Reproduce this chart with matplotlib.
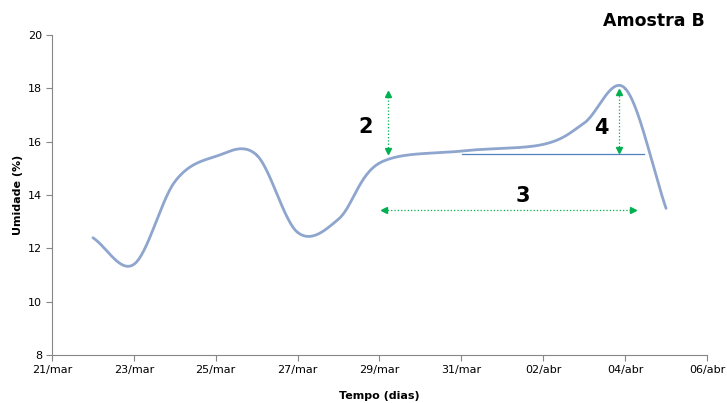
import matplotlib
matplotlib.use('Agg')
from matplotlib import pyplot as plt
import matplotlib.dates as mdates
import numpy as np
import pandas as pd

# dados
datas = ['2013-03-22', '2013-03-23', '2013-03-24', '2013-03-25', '2013-03-26',
         '2013-03-27', '2013-03-28', '2013-03-29', '2013-03-31', '2013-04-02',
         '2013-04-03', '2013-04-04', '2013-04-05']
umidade = [12.4, 11.4, 14.5, 15.45, 15.5, 12.6, 13.1, 15.2, 15.65, 15.9, 16.7, 18.0, 13.5]

tick_datas = ['2013-03-21', '2013-03-23', '2013-03-25', '2013-03-27', '2013-03-29',
              '2013-03-31', '2013-04-02', '2013-04-04', '2013-04-06']
tick_labels = ['21/mar', '23/mar', '25/mar', '27/mar', '29/mar', '31/mar', '02/abr', '04/abr', '06/abr']


def suaviza(x, y, n=30):
    # curva suavizada tipo Catmull-Rom (linha suave do Excel)
    x = np.asarray(x, float)
    y = np.asarray(y, float)
    px = np.concatenate([[2 * x[0] - x[1]], x, [2 * x[-1] - x[-2]]])
    py = np.concatenate([[2 * y[0] - y[1]], y, [2 * y[-1] - y[-2]]])
    xs, ys = [], []
    t = np.linspace(0, 1, n)
    for i in range(1, len(px) - 2):
        for p, out in ((px, xs), (py, ys)):
            p0, p1, p2, p3 = p[i - 1], p[i], p[i + 1], p[i + 2]
            out.extend(0.5 * ((2 * p1) + (-p0 + p2) * t +
                              (2 * p0 - 5 * p1 + 4 * p2 - p3) * t ** 2 +
                              (-p0 + 3 * p1 - 3 * p2 + p3) * t ** 3))
    return np.array(xs), np.array(ys)


x = mdates.date2num(pd.to_datetime(datas))
xt = mdates.date2num(pd.to_datetime(tick_datas))
d0 = xt[0]

fig = plt.figure(figsize=(7.27, 4.03), dpi=100)
ax = fig.add_axes([0.0715, 0.119, 0.901, 0.794])

sx, sy = suaviza(x, umidade)
ax.plot(sx, sy, color='#8EA5CE', lw=2.0, solid_capstyle='round')

verde = '#00B050'
# seta 2
ax.plot([d0 + 8.21, d0 + 8.21], [15.65, 17.8], color=verde, lw=0.9, ls=':')
ax.plot(d0 + 8.21, 17.8, marker='^', color=verde, ms=5)
ax.plot(d0 + 8.21, 15.65, marker='v', color=verde, ms=5)
ax.text(d0 + 7.65, 16.55, '2', fontsize=15, fontweight='bold', ha='center', va='center')
# seta 3
ax.plot([d0 + 8.1, d0 + 14.2], [13.44, 13.44], color=verde, lw=0.9, ls=':')
ax.plot(d0 + 8.1, 13.44, marker='<', color=verde, ms=5)
ax.plot(d0 + 14.2, 13.44, marker='>', color=verde, ms=5)
ax.text(d0 + 11.5, 13.95, '3', fontsize=15, fontweight='bold', ha='center', va='center')
# linha azul e seta 4
ax.plot([d0 + 10.02, d0 + 14.45], [15.54, 15.54], color='#4F81BD', lw=0.9)
ax.plot([d0 + 13.84, d0 + 13.84], [15.7, 17.85], color=verde, lw=0.9, ls=':')
ax.plot(d0 + 13.84, 17.85, marker='^', color=verde, ms=5)
ax.plot(d0 + 13.84, 15.7, marker='v', color=verde, ms=5)
ax.text(d0 + 13.42, 16.5, '4', fontsize=15, fontweight='bold', ha='center', va='center')

fig.text(0.9, 0.947, 'Amostra B', fontsize=12.5, fontweight='bold', ha='center', va='center')

ax.set_xlim(xt[0], xt[-1])
ax.set_ylim(8, 20)
ax.set_xticks(xt)
ax.set_xticklabels(tick_labels)
ax.set_yticks(range(8, 21, 2))
ax.tick_params(labelsize=8, length=4, color='#868686', pad=3)
for s in ['top', 'right']:
    ax.spines[s].set_visible(False)
for s in ['left', 'bottom']:
    ax.spines[s].set_color('#868686')
ax.set_ylabel('Umidade (%)', fontsize=8, fontweight='bold')
ax.set_xlabel('Tempo (dias)', fontsize=8, fontweight='bold', labelpad=12)

fig.savefig('out.png', dpi=100)
